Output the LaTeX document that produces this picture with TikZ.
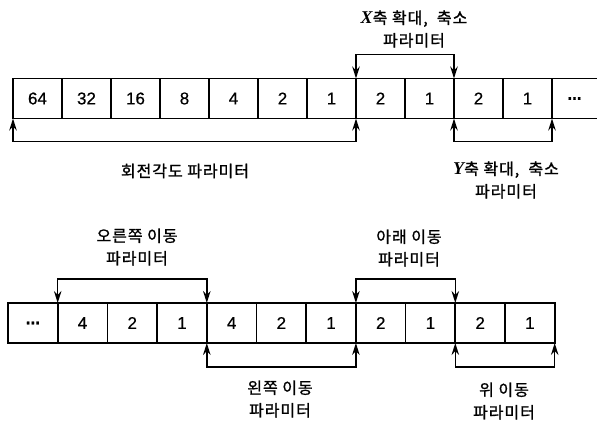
\documentclass[tikz,border=0pt]{standalone}
\usepackage{fontspec}
\setmainfont{Liberation Sans}
\newfontfamily\kr[FakeBold=1.2,LetterSpace=6]{Noto Sans CJK KR}
\newfontfamily\serx{Liberation Serif}
\newfontfamily\dig[FakeBold=0.5]{Liberation Sans}
\usetikzlibrary{arrows.meta,calc}
\newcommand{\ax}[1]{{\serx\bfseries\itshape\fontsize{18}{18}\selectfont #1}}
\begin{document}
\begin{tikzpicture}[x=1pt,y=-1pt,
  rowline/.style={line width=1.7pt},
  cell/.style={draw, line width=1.7pt, minimum height=40pt, inner sep=0pt, outer sep=0pt,
    font=\dig\fontsize{17}{17}\selectfont},
  tcell/.style={cell, minimum width=49pt},
  bcell/.style={cell, minimum width=49.7pt},
  opencell/.style={inner sep=0pt, outer sep=0pt, minimum height=40pt, minimum width=45pt,
    font=\dig\fontsize{17}{17}\selectfont},
  br/.style={line width=1.4pt, {Stealth[length=12pt,width=7.5pt]}-{Stealth[length=12pt,width=7.5pt]}},
  lbl/.style={align=center, inner sep=0pt, font=\kr\fontsize{16}{22.5}\selectfont}
]
\useasboundingbox (0,0) rectangle (597,425);

% top row
\foreach \t [count=\i] in {64,32,16,8,4,2,1,2,1,2,1}
  \node[tcell] (t\i) at ({13+49*(\i-0.5)},98.5) {\t};
\node[opencell] (t12) at (574.5,98.5) {\textbf{...}};
\draw[rowline] (t12.north west) -- (t12.north east);
\draw[rowline] (t12.south west) -- (t12.south east);

% bottom row
\foreach \t [count=\i] in {\textbf{...},4,2,1,4,2,1,2,1,2,1}
  \node[bcell] (b\i) at ({8+49.7*(\i-0.5)},323) {\t};

% top brackets
\draw[br] (t7.north east) -- ++(0,-24) -| (t9.north east);
\draw[br] (t1.south west) -- ++(0,23) -| (t7.south east);
\draw[br] (t9.south east) -- ++(0,23) -| (t11.south east);

% bottom brackets
\draw[br] (b1.north east) -- ++(0,-24) -| (b4.north east);
\draw[br] (b7.north east) -- ++(0,-24) -| (b9.north east);
\draw[br] (b4.south east) -- ++(0,24) -| (b7.south east);
\draw[br] (b9.south east) -- ++(0,24) -| (b11.south east);

% labels
\node[lbl] (lx) at (414,29) {\ax{X}축 확대,\ \ 축소\\파라미터};
\node[lbl] (lr) at (185,171) {회전각도\ 파라미터};
\node[lbl] (ly) at (506,180) {\ax{Y}축 확대,\ \ 축소\\파라미터};
\node[lbl] (lright) at (137,247) {오른쪽\ 이동\\파라미터};
\node[lbl] (ldown) at (409,248) {아래\ 이동\\파라미터};
\node[lbl] (lleft) at (280,399) {왼쪽\ 이동\\파라미터};
\node[lbl] (lup) at (504,401) {위\ 이동\\파라미터};
\end{tikzpicture}
\end{document}
